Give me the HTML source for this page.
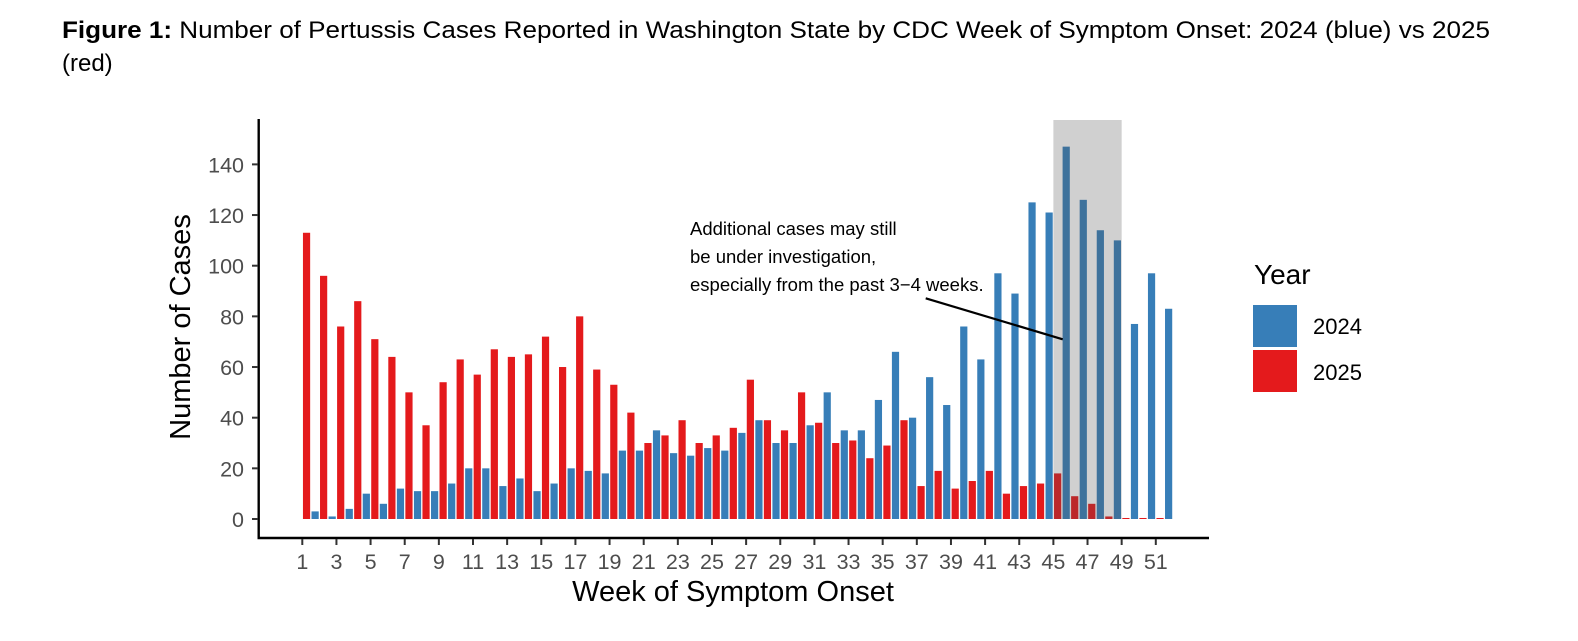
<!DOCTYPE html>
<html><head><meta charset="utf-8"><style>
html,body{margin:0;padding:0;background:#fff;}
svg{display:block;font-family:"Liberation Sans",Arial,sans-serif;}
</style></head><body>
<svg id="chart" width="1578" height="641" viewBox="0 0 1578 641">
<g>
<text x="62" y="38" font-size="24" fill="#000" textLength="1428" lengthAdjust="spacingAndGlyphs"><tspan font-weight="bold">Figure 1:</tspan> Number of Pertussis Cases Reported in Washington State by CDC Week of Symptom Onset: 2024 (blue) vs 2025</text>
<text x="62" y="71" font-size="24" fill="#000">(red)</text>
</g>
<g id="bars"></g>
<rect id="hl" fill="rgba(80,80,80,0.27)"></rect>
<g id="axes"></g>
<g font-size="18.5" fill="#000">
<text x="690" y="235">Additional cases may still</text>
<text x="690" y="263">be under investigation,</text>
<text x="690" y="291">especially from the past 3−4 weeks.</text>
<line x1="925.7" y1="298.3" x2="1062.7" y2="339.3" stroke="#000" stroke-width="2.2"/>
</g>
<text transform="translate(190,327) rotate(-90)" text-anchor="middle" font-size="29">Number of Cases</text>
<text x="733" y="601" text-anchor="middle" font-size="29">Week of Symptom Onset</text>
<g>
<text x="1254" y="284" font-size="28">Year</text>
<rect x="1253" y="305" width="44" height="42" fill="#377eb8"/>
<text x="1313" y="334" font-size="22">2024</text>
<rect x="1253" y="350" width="44" height="42" fill="#e41a1c"/>
<text x="1313" y="380" font-size="22">2025</text>
</g>
</svg>
<script>
const weeks = [1,2,3,4,5,6,7,8,9,10,11,12,13,14,15,16,17,18,19,20,21,22,23,24,25,26,27,28,29,30,31,32,33,34,35,36,37,38,39,40,41,42,43,44,45,46,47,48,49,50,51,52];
const cases2024 = [0,3,1,4,10,6,12,11,11,14,20,20,13,16,11,14,20,19,18,27,27,35,26,25,28,27,34,39,30,30,37,50,35,35,47,66,40,56,45,76,63,97,89,125,121,147,126,114,110,77,97,83];
const cases2025 = [113,96,76,86,71,64,50,37,54,63,57,67,64,65,72,60,80,59,53,42,30,33,39,30,33,36,55,39,35,50,38,30,31,24,29,39,13,19,12,15,19,10,13,14,18,9,6,1,0.4,0.4,0.4,null];
const yTicks = [0,20,40,60,80,100,120,140];
const xTickWeeks = [1,3,5,7,9,11,13,15,17,19,21,23,25,27,29,31,33,35,37,39,41,43,45,47,49,51];
const highlightWeeks = [45,49];

const NS = "http://www.w3.org/2000/svg";
const x = w => 302.3 + (w - 1) * 17.07;
const y = v => 519 - v * 2.533;
const bw = 7.2;
const bars = document.getElementById('bars');
function mk(tag, attrs, parent){const e=document.createElementNS(NS,tag);for(const k in attrs)e.setAttribute(k,attrs[k]);parent.appendChild(e);return e;}
weeks.forEach((w,i)=>{
  const a = cases2024[i], b = cases2025[i];
  if (a !== null && a > 0) {
    const r = mk('rect',{x:x(w)-4.25-bw/2,y:y(a),width:bw,height:y(0)-y(a),fill:'#377eb8'},bars);
    
    
  }
  if (b !== null && b > 0) {
    const r = mk('rect',{x:x(w)+4.25-bw/2,y:y(b),width:bw,height:Math.max(1,y(0)-y(b)),fill:'#e41a1c'},bars);
    
    
  }
});
const hl = document.getElementById('hl');
hl.setAttribute('x', x(highlightWeeks[0]));
hl.setAttribute('y', 120);
hl.setAttribute('width', x(highlightWeeks[1]) - x(highlightWeeks[0]));
hl.setAttribute('height', y(0) - 120);

const ax = document.getElementById('axes');
mk('line',{x1:258.7,y1:119,x2:258.7,y2:539,stroke:'#000','stroke-width':2.4},ax);
mk('line',{x1:257.5,y1:538,x2:1209,y2:538,stroke:'#000','stroke-width':2.4},ax);
yTicks.forEach(v=>{
  mk('line',{x1:252,y1:y(v),x2:258,y2:y(v),stroke:'#333','stroke-width':2},ax);
  const t = mk('text',{x:244,y:y(v)+8,'text-anchor':'end','font-size':21.5,fill:'#4d4d4d'},ax);
  t.textContent = v;
  
  
});
xTickWeeks.forEach(w=>{
  mk('line',{x1:x(w),y1:539,x2:x(w),y2:545,stroke:'#333','stroke-width':2},ax);
  const t = mk('text',{x:x(w),y:569,'text-anchor':'middle','font-size':21.5,fill:'#4d4d4d'},ax);
  t.textContent = w;
  
  
});
</script>
</body></html>
